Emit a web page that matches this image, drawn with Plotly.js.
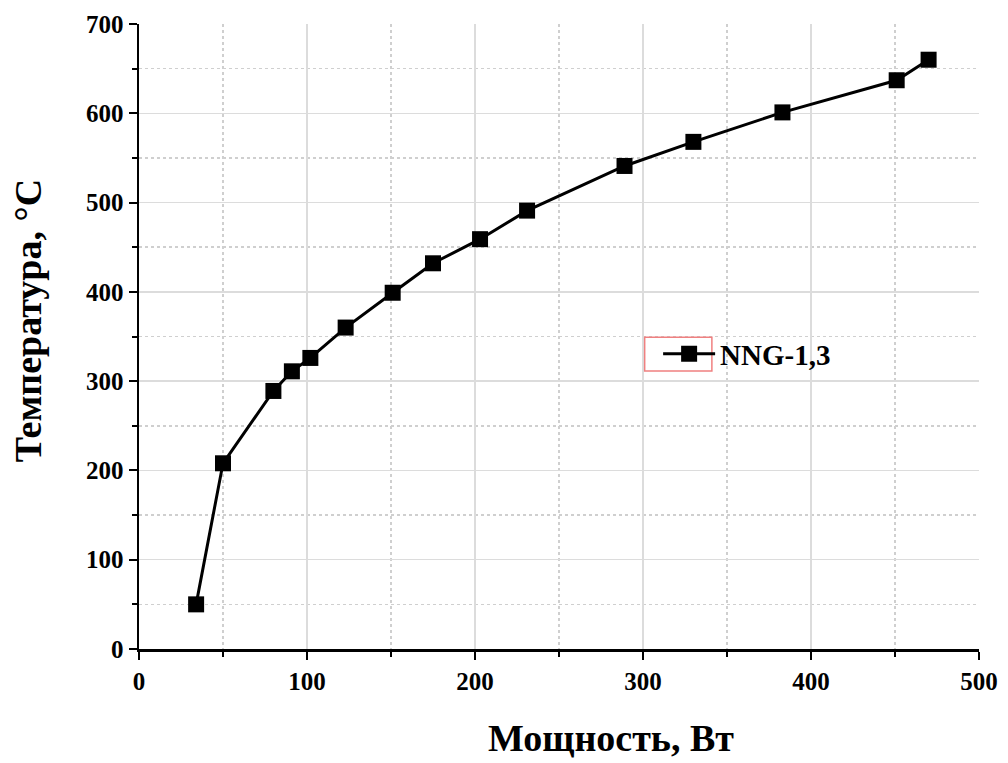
<!DOCTYPE html>
<html>
<head>
<meta charset="utf-8">
<script src="https://cdn.plot.ly/plotly-3.0.1.min.js"></script>
<style>html,body{margin:0;padding:0;background:#fff;}#chart{width:1008px;height:763px;}</style>
</head>
<body>
<div id="chart"></div>
<script>
const power = [34, 50, 80, 91, 102, 123, 151, 175, 203, 231, 289, 330, 383, 451, 470];
const temperature = [50, 208, 289, 311, 326, 360, 399, 432, 459, 491, 541, 568, 601, 637, 660];
const seriesName = 'NNG-1,3';
const xTitle = 'Мощность, Вт';
const yTitle = 'Температура, °C';

const font = 'Liberation Serif, Times New Roman, serif';

const trace = {
  x: power,
  y: temperature,
  name: seriesName,
  type: 'scatter',
  mode: 'lines+markers',
  line: {color: '#000', width: 3},
  marker: {symbol: 'square', size: 16, color: '#000'}
};

const axisCommon = {
  showline: true,
  linecolor: '#000',
  linewidth: 2.5,
  ticks: 'outside',
  ticklen: 8,
  tickwidth: 2,
  tickcolor: '#000',
  showgrid: true,
  gridcolor: '#dcdcdc',
  gridwidth: 1.5,
  zeroline: false,
  tickfont: {family: font, size: 25, color: '#000', weight: 'bold'},
  minor: {dtick: 50, ticks: 'outside', ticklen: 5, tickwidth: 2, tickcolor: '#000', showgrid: true, gridcolor: '#cfcfcf', gridwidth: 1.5, griddash: 'dot'}
};

const titleFont = {family: font, size: 38, color: '#000', weight: 'bold'};

const layout = {
  width: 1008,
  height: 763,
  margin: {l: 139, r: 29, t: 24, b: 114},
  paper_bgcolor: '#fff',
  plot_bgcolor: '#fff',
  showlegend: true,
  legend: {
    x: 0.618, y: 0.472, xanchor: 'left', yanchor: 'middle',
    bgcolor: 'rgba(0,0,0,0)', borderwidth: 0,
    itemwidth: 52,
    font: {family: font, size: 29, color: '#000', weight: 'bold'}
  },
  xaxis: Object.assign({}, axisCommon, {range: [0, 500], dtick: 100, tick0: 0}),
  yaxis: Object.assign({}, axisCommon, {range: [0, 700], dtick: 100, tick0: 0}),
  annotations: [
    {text: xTitle, xref: 'paper', yref: 'paper', x: 0.562, y: -0.142, xanchor: 'center', yanchor: 'middle', showarrow: false, font: titleFont},
    {text: yTitle, xref: 'paper', yref: 'paper', x: -0.132, y: 0.526, xanchor: 'center', yanchor: 'middle', textangle: -90, showarrow: false, font: titleFont}
  ],
  shapes: [{
    type: 'rect', xref: 'paper', yref: 'paper',
    x0: 0.602, x1: 0.682, y0: 0.445, y1: 0.499,
    line: {color: '#f08080', width: 1.5}
  }]
};

Plotly.newPlot('chart', [trace], layout, {displayModeBar: false, staticPlot: true});
</script>
</body>
</html>
